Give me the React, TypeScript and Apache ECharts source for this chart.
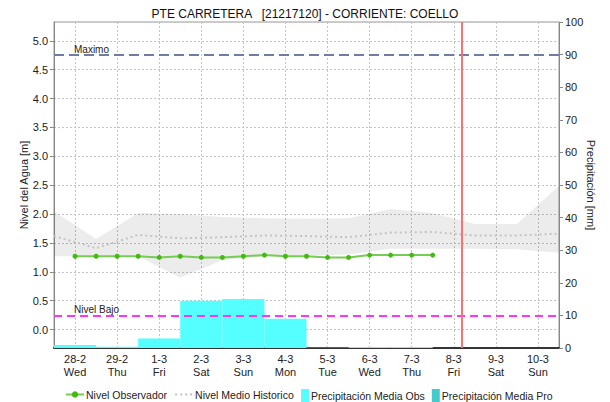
import React, { useEffect, useRef } from 'react';
import * as echarts from 'echarts';

const chartTitle = 'PTE CARRETERA   [21217120] - CORRIENTE: COELLO';
const dayLabels = ['28-2', '29-2', '1-3', '2-3', '3-3', '4-3', '5-3', '6-3', '7-3', '8-3', '9-3', '10-3'];
const weekdays = ['Wed', 'Thu', 'Fri', 'Sat', 'Sun', 'Mon', 'Tue', 'Wed', 'Thu', 'Fri', 'Sat', 'Sun'];
const precipObs = [0.9, 0.4, 2.9, 14.5, 15.0, 9.0, 0.1, 0.3, 0.3, null, null, null];
const precipPro = [null, null, null, null, null, null, null, null, null, null, null, null];
// times in days since 28-2 00:00
const obsTimes = [0, 0.5, 1, 1.5, 2, 2.5, 3, 3.5, 4, 4.5, 5, 5.5, 6, 6.5, 7, 7.5, 8, 8.5];
const obsLevel = [1.27, 1.27, 1.27, 1.27, 1.25, 1.27, 1.25, 1.25, 1.27, 1.29, 1.27, 1.27, 1.25, 1.25, 1.29, 1.29, 1.29, 1.29];
const histTimes = [-0.5, 0.5, 1.5, 2.5, 3.5, 4.5, 5.5, 6.5, 7.5, 8.5, 9.5, 10.5, 11.5];
const histUpper = [2.05, 1.57, 2.02, 2.0, 1.95, 1.93, 1.92, 1.93, 2.09, 2.02, 1.83, 1.83, 2.49];
const histLower = [1.27, 1.27, 1.27, 0.9, 1.2, 1.27, 1.28, 1.3, 1.4, 1.4, 1.4, 1.39, 1.33];
const histMedian = [1.62, 1.41, 1.64, 1.58, 1.6, 1.63, 1.62, 1.6, 1.68, 1.69, 1.63, 1.63, 1.66];
const nivelMaximo = 4.75;
const nivelBajo = 0.24;
const nowTime = 9.2;

const FONT = 'Liberation Sans, Arial, sans-serif';
const gridLine = { show: true, lineStyle: { color: '#c4c4c4', type: [2, 2] as any, width: 1 } };

export default function App() {
  const ref = useRef<HTMLDivElement>(null);
  useEffect(() => {
    const chart = echarts.init(ref.current!, null, { renderer: 'svg' });
    const zip = (xs: number[], ys: number[]) => xs.map((x, i) => [x, ys[i]]);
    const bandData = histTimes.map((t, i) => [t, histLower[i], histUpper[i]]);
    const legendText = { fontSize: 10.5, color: '#222', fontFamily: FONT, padding: [0, 0, 0, -3] };
    const option: any = {
      animation: false,
      backgroundColor: '#ffffff',
      textStyle: { fontFamily: FONT },
      title: {
        text: chartTitle,
        left: 'center',
        top: 3,
        textStyle: { fontSize: 12, fontWeight: 'normal', color: '#111', fontFamily: FONT },
      },
      grid: { left: 54, right: 51, top: 22, bottom: 54, show: true, borderColor: '#999', borderWidth: 1 },
      legend: [
        {
          data: [
            'Nivel Observador',
            { name: 'Nivel Medio Historico', itemStyle: { opacity: 0 } },
          ],
          left: 60,
          top: 384,
          itemWidth: 18,
          itemHeight: 8,
          itemGap: 7,
          textStyle: legendText,
        },
        {
          data: ['Precipitación Media Obs', 'Precipitación Media Pro'],
          left: 296,
          top: 384,
          icon: 'rect',
          itemWidth: 8,
          itemHeight: 13,
          itemGap: 7,
          textStyle: legendText,
        },
      ],
      xAxis: [
        {
          type: 'category',
          data: dayLabels,
          boundaryGap: true,
          position: 'bottom',
          axisLine: { show: true, onZero: false, lineStyle: { color: '#333', width: 2, type: [1, 1] } },
          axisTick: { show: false },
          splitLine: { show: false },
          axisLabel: {
            formatter: (v: string, i: number) => `${v}\n${weekdays[i]}`,
            fontSize: 11,
            lineHeight: 13,
            color: '#222',
            margin: 4,
            interval: 0,
          },
        },
        {
          type: 'value',
          min: -0.5,
          max: 11.5,
          minInterval: 1,
          maxInterval: 1,
          position: 'bottom',
          axisLine: { show: false, onZero: false },
          axisTick: { show: false },
          axisLabel: { show: false },
          splitLine: gridLine,
        },
      ],
      yAxis: [
        {
          type: 'value',
          position: 'left',
          min: -0.318,
          max: 5.325,
          minInterval: 0.5,
          maxInterval: 0.5,
          name: 'Nivel del Agua [m]',
          nameLocation: 'middle',
          nameRotate: 90,
          nameGap: 25,
          nameMoveOverlap: false,
          nameTextStyle: { fontSize: 11, color: '#222', fontFamily: FONT },
          axisLine: { show: true, onZero: false, lineStyle: { color: '#888' } },
          axisTick: { show: true, length: 4, lineStyle: { color: '#888' } },
          axisLabel: {
            formatter: (v: number) => v.toFixed(1),
            showMinLabel: false,
            showMaxLabel: false,
            fontSize: 11,
            color: '#222',
            margin: 6,
          },
          splitLine: gridLine,
        },
        {
          type: 'value',
          position: 'right',
          min: 0,
          max: 100,
          interval: 10,
          name: 'Precipitación [mm]',
          nameLocation: 'middle',
          nameRotate: -90,
          nameGap: 26,
          nameMoveOverlap: false,
          nameTextStyle: { fontSize: 11, color: '#222', fontFamily: FONT },
          axisLine: { show: true, onZero: false, lineStyle: { color: '#888' } },
          axisTick: { show: true, length: 4, lineStyle: { color: '#888' } },
          axisLabel: { fontSize: 11, color: '#222', margin: 6 },
          splitLine: { show: false },
        },
      ],
      series: [
        {
          name: 'histBand',
          type: 'custom',
          xAxisIndex: 1,
          yAxisIndex: 0,
          silent: true,
          z: 1,
          data: bandData,
          renderItem: (params: any, api: any) => {
            if (params.dataIndex !== 0) return null;
            const top = bandData.map((d) => api.coord([d[0], d[2]]));
            const bottom = bandData.map((d) => api.coord([d[0], d[1]])).reverse();
            return {
              type: 'polygon',
              shape: { points: top.concat(bottom) },
              style: { fill: 'rgba(0,0,0,0.075)', stroke: 'none' },
            };
          },
        },
        {
          name: 'Precipitación Media Obs',
          type: 'bar',
          xAxisIndex: 0,
          yAxisIndex: 1,
          stack: 'precip',
          barWidth: '100%',
          barCategoryGap: '0%',
          itemStyle: { color: '#55ffff' },
          data: precipObs,
        },
        {
          name: 'Precipitación Media Pro',
          type: 'bar',
          xAxisIndex: 0,
          yAxisIndex: 1,
          stack: 'precip',
          barWidth: '100%',
          barCategoryGap: '0%',
          itemStyle: { color: '#44cccc' },
          data: precipPro,
        },
        {
          name: 'Nivel Medio Historico',
          type: 'line',
          xAxisIndex: 1,
          yAxisIndex: 0,
          symbol: 'none',
          itemStyle: { color: '#c4c4c4' },
          lineStyle: { color: '#c4c4c4', width: 2, type: [2, 3] },
          data: zip(histTimes, histMedian),
          markLine: {
            silent: true,
            symbol: 'none',
            data: [
              {
                name: 'Maximo',
                yAxis: nivelMaximo,
                lineStyle: { color: '#6f7ca6', width: 2, type: [10, 5] },
              },
              {
                name: 'Nivel Bajo',
                yAxis: nivelBajo,
                lineStyle: { color: '#ff33ff', width: 2, type: [8, 5] },
              },
            ],
            label: {
              show: true,
              formatter: '{b}',
              position: 'insideStartTop',
              distance: [20, 1],
              fontSize: 10,
              color: '#222',
              fontFamily: FONT,
            },
          },
        },
        {
          name: 'Nivel Observador',
          type: 'line',
          xAxisIndex: 1,
          yAxisIndex: 0,
          symbol: 'circle',
          symbolSize: 5,
          showSymbol: true,
          itemStyle: { color: '#44bb11' },
          lineStyle: { color: '#77cc55', width: 2 },
          data: zip(obsTimes, obsLevel),
          markLine: {
            silent: true,
            symbol: 'none',
            label: { show: false },
            lineStyle: { color: '#ff7070', width: 2, type: 'solid' },
            data: [{ xAxis: nowTime }],
          },
        },
      ],
    };
    chart.setOption(option);
    return () => chart.dispose();
  }, []);
  return <div ref={ref} style={{ position: 'absolute', left: 0, top: 0, width: 610, height: 402 }} />;
}
